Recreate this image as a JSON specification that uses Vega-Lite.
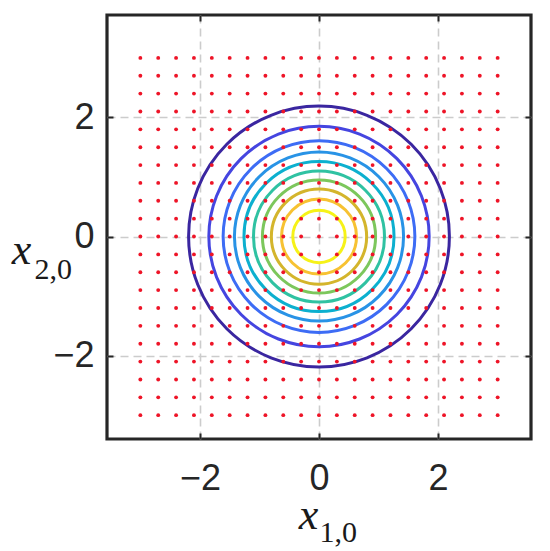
{
  "$schema": "https://vega.github.io/schema/vega-lite/v6.json",
  "width": 424,
  "height": 424,
  "autosize": {"type": "none"},
  "padding": {"left": 107, "top": 15, "right": 19, "bottom": 112},
  "background": "white",
  "config": {"view": {"stroke": "#262626", "strokeWidth": 3.2}},
  "datasets": {
    "contours": [
      {"level": 1, "r": 2.19, "cx": 0, "cy": 0},
      {"level": 2, "r": 1.85, "cx": 0, "cy": 0},
      {"level": 3, "r": 1.61, "cx": 0, "cy": 0},
      {"level": 4, "r": 1.42, "cx": 0, "cy": 0},
      {"level": 5, "r": 1.26, "cx": 0, "cy": 0},
      {"level": 6, "r": 1.10, "cx": 0, "cy": 0},
      {"level": 7, "r": 0.95, "cx": 0, "cy": 0},
      {"level": 8, "r": 0.80, "cx": 0, "cy": 0},
      {"level": 9, "r": 0.63, "cx": 0, "cy": 0},
      {"level": 10, "r": 0.44, "cx": 0, "cy": 0}
    ],
    "grid": [
      {"x": -3, "ys": [-3,-2.7,-2.4,-2.1,-1.8,-1.5,-1.2,-0.9,-0.6,-0.3,0,0.3,0.6,0.9,1.2,1.5,1.8,2.1,2.4,2.7,3]},
      {"x": -2.7, "ys": [-3,-2.7,-2.4,-2.1,-1.8,-1.5,-1.2,-0.9,-0.6,-0.3,0,0.3,0.6,0.9,1.2,1.5,1.8,2.1,2.4,2.7,3]},
      {"x": -2.4, "ys": [-3,-2.7,-2.4,-2.1,-1.8,-1.5,-1.2,-0.9,-0.6,-0.3,0,0.3,0.6,0.9,1.2,1.5,1.8,2.1,2.4,2.7,3]},
      {"x": -2.1, "ys": [-3,-2.7,-2.4,-2.1,-1.8,-1.5,-1.2,-0.9,-0.6,-0.3,0,0.3,0.6,0.9,1.2,1.5,1.8,2.1,2.4,2.7,3]},
      {"x": -1.8, "ys": [-3,-2.7,-2.4,-2.1,-1.8,-1.5,-1.2,-0.9,-0.6,-0.3,0,0.3,0.6,0.9,1.2,1.5,1.8,2.1,2.4,2.7,3]},
      {"x": -1.5, "ys": [-3,-2.7,-2.4,-2.1,-1.8,-1.5,-1.2,-0.9,-0.6,-0.3,0,0.3,0.6,0.9,1.2,1.5,1.8,2.1,2.4,2.7,3]},
      {"x": -1.2, "ys": [-3,-2.7,-2.4,-2.1,-1.8,-1.5,-1.2,-0.9,-0.6,-0.3,0,0.3,0.6,0.9,1.2,1.5,1.8,2.1,2.4,2.7,3]},
      {"x": -0.9, "ys": [-3,-2.7,-2.4,-2.1,-1.8,-1.5,-1.2,-0.9,-0.6,-0.3,0,0.3,0.6,0.9,1.2,1.5,1.8,2.1,2.4,2.7,3]},
      {"x": -0.6, "ys": [-3,-2.7,-2.4,-2.1,-1.8,-1.5,-1.2,-0.9,-0.6,-0.3,0,0.3,0.6,0.9,1.2,1.5,1.8,2.1,2.4,2.7,3]},
      {"x": -0.3, "ys": [-3,-2.7,-2.4,-2.1,-1.8,-1.5,-1.2,-0.9,-0.6,-0.3,0,0.3,0.6,0.9,1.2,1.5,1.8,2.1,2.4,2.7,3]},
      {"x": 0, "ys": [-3,-2.7,-2.4,-2.1,-1.8,-1.5,-1.2,-0.9,-0.6,-0.3,0,0.3,0.6,0.9,1.2,1.5,1.8,2.1,2.4,2.7,3]},
      {"x": 0.3, "ys": [-3,-2.7,-2.4,-2.1,-1.8,-1.5,-1.2,-0.9,-0.6,-0.3,0,0.3,0.6,0.9,1.2,1.5,1.8,2.1,2.4,2.7,3]},
      {"x": 0.6, "ys": [-3,-2.7,-2.4,-2.1,-1.8,-1.5,-1.2,-0.9,-0.6,-0.3,0,0.3,0.6,0.9,1.2,1.5,1.8,2.1,2.4,2.7,3]},
      {"x": 0.9, "ys": [-3,-2.7,-2.4,-2.1,-1.8,-1.5,-1.2,-0.9,-0.6,-0.3,0,0.3,0.6,0.9,1.2,1.5,1.8,2.1,2.4,2.7,3]},
      {"x": 1.2, "ys": [-3,-2.7,-2.4,-2.1,-1.8,-1.5,-1.2,-0.9,-0.6,-0.3,0,0.3,0.6,0.9,1.2,1.5,1.8,2.1,2.4,2.7,3]},
      {"x": 1.5, "ys": [-3,-2.7,-2.4,-2.1,-1.8,-1.5,-1.2,-0.9,-0.6,-0.3,0,0.3,0.6,0.9,1.2,1.5,1.8,2.1,2.4,2.7,3]},
      {"x": 1.8, "ys": [-3,-2.7,-2.4,-2.1,-1.8,-1.5,-1.2,-0.9,-0.6,-0.3,0,0.3,0.6,0.9,1.2,1.5,1.8,2.1,2.4,2.7,3]},
      {"x": 2.1, "ys": [-3,-2.7,-2.4,-2.1,-1.8,-1.5,-1.2,-0.9,-0.6,-0.3,0,0.3,0.6,0.9,1.2,1.5,1.8,2.1,2.4,2.7,3]},
      {"x": 2.4, "ys": [-3,-2.7,-2.4,-2.1,-1.8,-1.5,-1.2,-0.9,-0.6,-0.3,0,0.3,0.6,0.9,1.2,1.5,1.8,2.1,2.4,2.7,3]},
      {"x": 2.7, "ys": [-3,-2.7,-2.4,-2.1,-1.8,-1.5,-1.2,-0.9,-0.6,-0.3,0,0.3,0.6,0.9,1.2,1.5,1.8,2.1,2.4,2.7,3]},
      {"x": 3, "ys": [-3,-2.7,-2.4,-2.1,-1.8,-1.5,-1.2,-0.9,-0.6,-0.3,0,0.3,0.6,0.9,1.2,1.5,1.8,2.1,2.4,2.7,3]}
    ]
  },
  "layer": [
    {
      "data": {"name": "contours"},
      "mark": {"type": "point", "shape": "circle", "filled": false, "strokeWidth": 3, "opacity": 1},
      "encoding": {
        "x": {
          "field": "cx", "type": "quantitative",
          "scale": {"domain": [-3.56, 3.56], "nice": false, "zero": false},
          "axis": {
            "orient": "bottom", "values": [-2, 0, 2], "format": "d",
            "grid": true, "gridColor": "#cccccc", "gridDash": [8, 5], "gridWidth": 1.6,
            "domain": false, "ticks": true, "tickSize": -6, "tickWidth": 2, "tickColor": "#262626",
            "labelFont": "Liberation Sans", "labelFontSize": 36, "labelColor": "#262626", "labelPadding": 28,
            "title": "x", "titleFont": "Liberation Serif", "titleFontStyle": "italic", "titleFontWeight": "normal",
            "titleFontSize": 44, "titleColor": "#1a1a1a", "titleX": 201, "titleY": 89,
            "titleAlign": "center", "titleBaseline": "alphabetic"
          }
        },
        "y": {
          "field": "cy", "type": "quantitative",
          "scale": {"domain": [-3.40, 3.72], "nice": false, "zero": false},
          "axis": {
            "orient": "left", "values": [-2, 0, 2], "format": "d",
            "grid": true, "gridColor": "#cccccc", "gridDash": [8, 5], "gridWidth": 1.6,
            "domain": false, "ticks": true, "tickSize": -6, "tickWidth": 2, "tickColor": "#262626",
            "labelFont": "Liberation Sans", "labelFontSize": 36, "labelColor": "#262626", "labelPadding": 19,
            "title": "x", "titleFont": "Liberation Serif", "titleFontStyle": "italic", "titleFontWeight": "normal",
            "titleFontSize": 44, "titleColor": "#1a1a1a", "titleAngle": 0, "titleX": -86, "titleY": 248,
            "titleAlign": "center", "titleBaseline": "alphabetic"
          }
        },
        "size": {
          "field": "r", "type": "quantitative",
          "scale": {"type": "pow", "exponent": 2, "domain": [0, 3], "range": [0, 127663]},
          "legend": null
        },
        "color": {
          "field": "level", "type": "ordinal",
          "scale": {
            "domain": [1, 2, 3, 4, 5, 6, 7, 8, 9, 10],
            "range": ["#3a26a0", "#4545e0", "#3d6cf5", "#2893e6", "#0cb0cf", "#2fc2a2", "#7cc75c", "#d4b52c", "#f7c232", "#f6f218"]
          },
          "legend": null
        }
      }
    },
    {
      "data": {"name": "grid"},
      "transform": [{"flatten": ["ys"], "as": ["y"]}],
      "mark": {"type": "circle", "color": "#ee1427", "size": 15, "opacity": 1},
      "encoding": {
        "x": {
          "field": "x", "type": "quantitative",
          "scale": {"domain": [-3.56, 3.56], "nice": false, "zero": false},
          "axis": {
            "orient": "top", "values": [-2, 0, 2], "labels": false, "grid": false, "domain": false,
            "ticks": true, "tickSize": -6, "tickWidth": 2, "tickColor": "#262626",
            "title": "1,0", "titleFont": "Liberation Serif", "titleFontStyle": "normal", "titleFontWeight": "normal",
            "titleFontSize": 30, "titleColor": "#1a1a1a", "titleX": 212, "titleY": 526,
            "titleAlign": "left", "titleBaseline": "alphabetic"
          }
        },
        "y": {
          "field": "y", "type": "quantitative",
          "scale": {"domain": [-3.40, 3.72], "nice": false, "zero": false},
          "axis": {
            "orient": "right", "values": [-2, 0, 2], "labels": false, "grid": false, "domain": false,
            "ticks": true, "tickSize": -6, "tickWidth": 2, "tickColor": "#262626",
            "title": "2,0", "titleFont": "Liberation Serif", "titleFontStyle": "normal", "titleFontWeight": "normal",
            "titleFontSize": 30, "titleColor": "#1a1a1a", "titleAngle": 0, "titleX": -497, "titleY": 263,
            "titleAlign": "left", "titleBaseline": "alphabetic"
          }
        }
      }
    }
  ],
  "resolve": {"axis": {"x": "independent", "y": "independent"}}
}
